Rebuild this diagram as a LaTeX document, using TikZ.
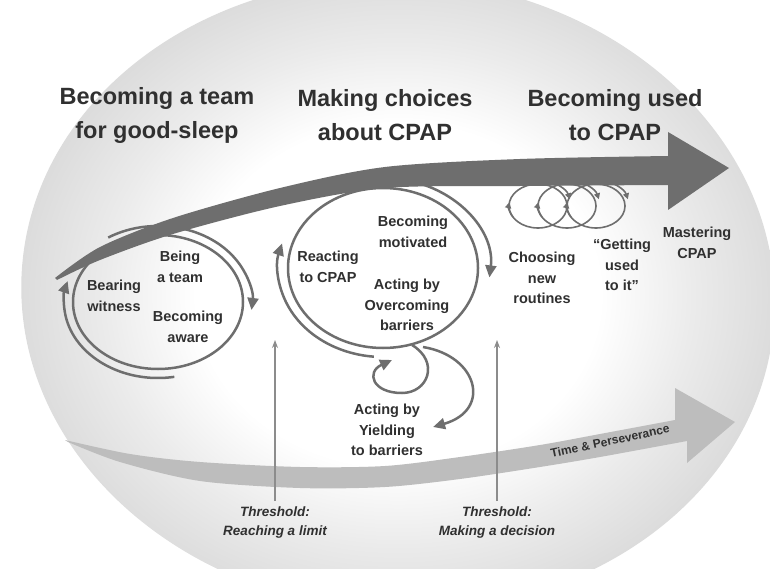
\documentclass[tikz,border=0pt]{standalone}
\usepackage{fontspec}
\setmainfont{Liberation Sans}
\usetikzlibrary{arrows.meta}
\usetikzlibrary{calc}
\definecolor{arrowgray}{HTML}{6E6E6E}
\definecolor{timegray}{HTML}{BDBDBD}
\definecolor{txtgray}{HTML}{303030}
\definecolor{threshgray}{HTML}{8C8C8C}
\definecolor{edgegray}{HTML}{DADADA}
\definecolor{midgray}{HTML}{EBEBEB}
\pgfdeclareradialshading{bgshade}{\pgfpointorigin}{%
  color(0bp)=(white); color(13bp)=(white); color(19bp)=(midgray);
  color(25bp)=(edgegray); color(50bp)=(edgegray)}
\tikzset{%
  ring/.style = {draw=arrowgray, line width=2.5pt},
  cycarrow/.style = {draw=arrowgray, line width=2.5pt,
        -{Triangle[length=12pt,width=11pt]}},
  minring/.style = {draw=arrowgray, line width=1.6pt},
  minarrow/.style = {draw=arrowgray, line width=1.6pt,
        -{Triangle[length=6pt,width=6pt]}},
  phase/.style = {text=txtgray, align=center, inner sep=0pt,
        font=\fontsize{23.5}{34}\selectfont\bfseries},
  lab/.style = {text=txtgray, align=center, inner sep=0pt,
        font=\fontsize{14.5}{20.5}\selectfont\bfseries},
  thr/.style = {text=txtgray, align=center, inner sep=0pt,
        font=\fontsize{13.5}{19}\selectfont\bfseries\itshape},
  thrarrow/.style = {draw=threshgray, line width=1.2pt,
        -{Stealth[length=8pt,width=6pt]}}
}

\begin{document}
\begin{tikzpicture}[x=1pt, y=-1pt]
    \useasboundingbox (0,0) rectangle (770,569);
    % backdrop
    \shade[shading=bgshade, rotate around={-4:(398,295)}]
        (398,295) ellipse [x radius=377, y radius=316];

    % time & perseverance
    \fill[timegray] plot[smooth] coordinates {(65,440) (130,454) (200,462)
            (300,467) (385,466) (460,457) (540,445) (600,434) (675,420)}
        -- (675,388) -- (735,422) -- (687,463)
        -- plot[smooth] coordinates {(687,441) (600,457) (540,467) (460,479)
            (385,487) (300,488) (200,481) (120,462) (68,442)} -- cycle;
    \node[text=txtgray, font=\fontsize{12}{14}\selectfont\bfseries,
        rotate=12, inner sep=0pt] (time) at (610,441) {Time \& Perseverance};

    % main arrow
    \fill[arrowgray] plot[smooth] coordinates {(55,278) (100,247) (173,218)
            (280,188) (385,167) (520,159) (668,156)}
        -- (668,132) -- (729,168) -- (668,210)
        -- plot[smooth] coordinates {(668,185) (520,186) (385,188)
            (280,206) (173,234) (100,260) (57,280)} -- cycle;

    % phases
    \node[phase] (team) at (157,115) {Becoming a team\\for good-sleep};
    \node[phase] (choices) at (385,115) {Making choices\\about CPAP};
    \node[phase] (used) at (615,115) {Becoming used\\to CPAP};

    % first cycle
    \coordinate (c1) at (158,302);
    \draw[ring] (c1) ellipse [x radius=85, y radius=67];
    \draw[cycarrow] ($(c1)+({94*cos(-122)},{76*sin(-122)})$)
        arc[start angle=-122, end angle=6, x radius=94, y radius=76];
    \draw[cycarrow] ($(c1)+({94*cos(80)},{76*sin(80)})$)
        arc[start angle=80, end angle=196, x radius=94, y radius=76];
    \node[lab] (being) at (180,267) {Being\\a team};
    \node[lab] (bearing) at (114,296) {Bearing\\witness};
    \node[lab] (aware) at (188,327) {Becoming\\aware};

    % second cycle
    \coordinate (c2) at (383,268);
    \draw[ring] (c2) ellipse [x radius=95, y radius=80];
    \draw[cycarrow] ($(c2)+({107*cos(-75)},{90*sin(-75)})$)
        arc[start angle=-75, end angle=6, x radius=107, y radius=90];
    \draw[cycarrow] ($(c2)+({105*cos(95)},{89*sin(95)})$)
        arc[start angle=95, end angle=196, x radius=105, y radius=89];
    \node[lab] (reacting) at (328,267) {Reacting\\to CPAP};
    \node[lab] (motivated) at (413,232) {Becoming\\motivated};
    \node[lab] (overcoming) at (407,305) {Acting by\\Overcoming\\barriers};

    % yielding
    \coordinate (y1) at (412,345);
    \coordinate (y2) at (423,347);
    \node[lab] (yielding) at (387,430) {Acting by\\Yielding\\to barriers};
    \draw[cycarrow] (y1) .. controls (440,362) and (428,393) .. (402,393)
        .. controls (372,393) and (366,372) .. (392,360);
    \draw[cycarrow] (y2) .. controls (478,356) and (492,410) .. ($(yielding.east)+(10,-3)$);

    % third phase
    \coordinate (r1) at (538,206);
    \coordinate (r2) at (567,206);
    \coordinate (r3) at (596,206);
    \draw[minring] (r1) ellipse [x radius=29, y radius=22];
    \draw[minring] (r2) ellipse [x radius=29, y radius=22];
    \draw[minring] (r3) ellipse [x radius=29, y radius=22];
    \draw[minarrow] ($(r1)+({29*cos(150)},{22*sin(150)})$)
        arc[start angle=150, end angle=190, x radius=29, y radius=22];
    \draw[minarrow] ($(r2)+({29*cos(150)},{22*sin(150)})$)
        arc[start angle=150, end angle=190, x radius=29, y radius=22];
    \draw[minarrow] ($(r3)+({29*cos(150)},{22*sin(150)})$)
        arc[start angle=150, end angle=190, x radius=29, y radius=22];
    \draw[minarrow] ($(r1)+({33*cos(-80)},{26*sin(-80)})$)
        arc[start angle=-80, end angle=-15, x radius=33, y radius=26];
    \draw[minarrow] ($(r2)+({33*cos(-80)},{26*sin(-80)})$)
        arc[start angle=-80, end angle=-15, x radius=33, y radius=26];
    \draw[minarrow] ($(r3)+({33*cos(-80)},{26*sin(-80)})$)
        arc[start angle=-80, end angle=-15, x radius=33, y radius=26];
    \node[lab] (choosing) at (542,278) {Choosing\\new\\routines};
    \node[lab] (getting) at (622,265) {``Getting\\used\\to it''};
    \node[lab] (mastering) at (697,243) {Mastering\\CPAP};

    % thresholds
    \node[thr] (limit) at (275,523) {Threshold:\\Reaching a limit};
    \node[thr] (decision) at (497,523) {Threshold:\\Making a decision};
    \coordinate (limittip) at (275,340);
    \coordinate (decisiontip) at (497,340);
    \draw[thrarrow] ($(limit.north)+(0,-6)$) -- (limittip);
    \draw[thrarrow] ($(decision.north)+(0,-6)$) -- (decisiontip);
\end{tikzpicture}
\end{document}
